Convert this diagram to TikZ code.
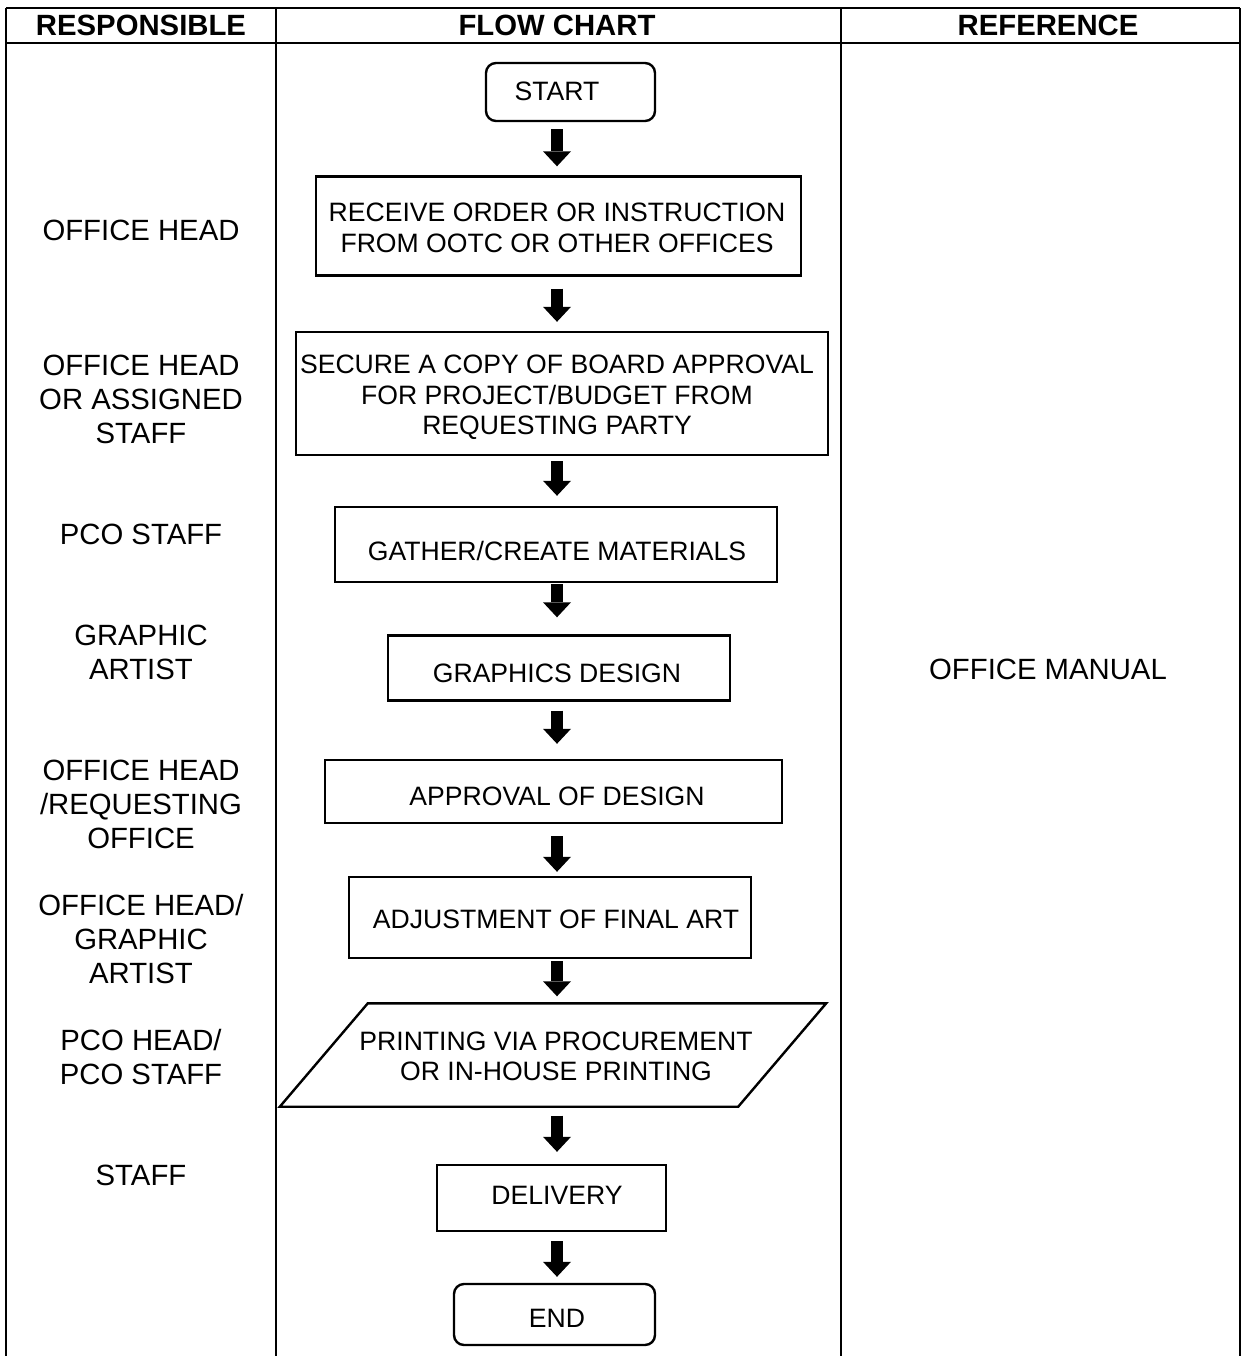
\documentclass[tikz,border=0pt]{standalone}
\usepackage{fontspec}
\setmainfont{Liberation Sans}
\usetikzlibrary{arrows.meta}
\begin{document}
\begin{tikzpicture}[x=1pt,y=-1pt,
  rule/.style={line width=2pt},
  colhead/.style={font=\fontsize{29.3pt}{34pt}\selectfont\bfseries, inner sep=0pt},
  role/.style={font=\fontsize{29.3pt}{34pt}\selectfont, align=center, inner sep=0pt},
  stepbox/.style={draw, line width=2.4pt, inner sep=0pt},
  termbox/.style={stepbox, rounded corners=10pt},
  steptext/.style={inner sep=0pt, align=center, font=\fontsize{26.6pt}{30.6pt}\selectfont},
  flow/.style={line width=12pt, -{Triangle[width=28pt,length=15pt,line width=0pt]}},
]
\useasboundingbox (0,0) rectangle (1246,1356);

% table grid
\draw[rule] (6,8) -- (1240,8);
\draw[rule] (6,43) -- (1240,43);
\draw[rule] (6,8) -- (6,1356);
\draw[rule] (276,8) -- (276,1356);
\draw[rule] (841,8) -- (841,1356);
\draw[rule] (1240,8) -- (1240,1356);

% column headings
\node[colhead] (hresp) at (141,25.5) {RESPONSIBLE};
\node[colhead] (hflow) at (557,25.5) {FLOW CHART};
\node[colhead] (href)  at (1048,25.5) {REFERENCE};

% responsible parties
\node[role] (r1) at (141,230) {OFFICE HEAD};
\node[role] (r2) at (141,399) {OFFICE HEAD\\OR ASSIGNED\\STAFF};
\node[role] (r3) at (141,534) {PCO STAFF};
\node[role] (r4) at (141,652) {GRAPHIC\\ARTIST};
\node[role] (r5) at (141,804) {OFFICE HEAD\\/REQUESTING\\OFFICE};
\node[role] (r6) at (141,939) {OFFICE HEAD/\\GRAPHIC\\ARTIST};
\node[role] (r7) at (141,1057.5) {PCO HEAD/\\PCO STAFF};
\node[role] (r8) at (141,1175) {STAFF};

% reference
\node[role] (ref) at (1048,669) {OFFICE MANUAL};

% flow chart steps: outlines
\coordinate (ax) at (557,0);
\node[termbox, minimum width=169pt, minimum height=58pt] (start) at (570.5,92) {};
\node[stepbox, minimum width=485pt, minimum height=99pt] (receive) at (558.5,226) {};
\node[stepbox, minimum width=532pt, minimum height=123pt] (secure) at (562,393.5) {};
\node[stepbox, minimum width=442pt, minimum height=75pt] (gather) at (556,544.5) {};
\node[stepbox, minimum width=342pt, minimum height=65pt] (design) at (559,668) {};
\node[stepbox, minimum width=457pt, minimum height=63pt] (approve) at (553.5,791.5) {};
\node[stepbox, minimum width=402pt, minimum height=81pt] (adjust) at (550,917.5) {};
\node[inner sep=0pt, minimum width=546pt, minimum height=103pt] (print) at (553,1055) {};
\draw[line width=2.4pt] ([xshift=88pt]print.north west) -- (print.north east)
  -- ([xshift=-88pt]print.south east) -- (print.south west) -- cycle;
\node[stepbox, minimum width=229pt, minimum height=66pt] (deliver) at (551.5,1198) {};
\node[termbox, minimum width=201pt, minimum height=61pt] (end) at (554.5,1314.5) {};

% flow chart steps: wording
\node[steptext] (start-t) at (557,91) {START};
\node[steptext] (receive-t) at (557,228) {RECEIVE ORDER OR INSTRUCTION\\FROM OOTC OR OTHER OFFICES};
\node[steptext] (secure-t) at (557,397.5) {SECURE A COPY OF BOARD APPROVAL\\FOR PROJECT/BUDGET FROM\\REQUESTING PARTY};
\node[steptext] (gather-t) at (557,551) {GATHER/CREATE MATERIALS};
\node[steptext] (design-t) at (557,673) {GRAPHICS DESIGN};
\node[steptext] (approve-t) at (557,796) {APPROVAL OF DESIGN};
\node[steptext] (adjust-t) at (556,919) {ADJUSTMENT OF FINAL ART};
\node[steptext] (print-t) at (556,1056.5) {PRINTING VIA PROCUREMENT\\OR IN-HOUSE PRINTING};
\node[steptext] (deliver-t) at (557,1195) {DELIVERY};
\node[steptext] (end-t) at (557,1318) {END};

% connectors
\draw[flow, shorten <=7pt, shorten >=9pt] (start.south -| ax) -- (receive.north -| ax);
\draw[flow, shorten <=12pt, shorten >=9pt] (receive.south -| ax) -- (secure.north -| ax);
\draw[flow, shorten <=5pt, shorten >=10pt] (secure.south -| ax) -- (gather.north -| ax);
\draw[flow, shorten <=1pt, shorten >=17pt] (gather.south -| ax) -- (design.north -| ax);
\draw[flow, shorten <=9pt, shorten >=15pt] (design.south -| ax) -- (approve.north -| ax);
\draw[flow, shorten <=12pt, shorten >=4pt] (approve.south -| ax) -- (adjust.north -| ax);
\draw[flow, shorten <=2pt, shorten >=7pt] (adjust.south -| ax) -- (print.north -| ax);
\draw[flow, shorten <=9pt, shorten >=12pt] (print.south -| ax) -- (deliver.north -| ax);
\draw[flow, shorten <=9pt, shorten >=6pt] (deliver.south -| ax) -- (end.north -| ax);
\end{tikzpicture}
\end{document}
